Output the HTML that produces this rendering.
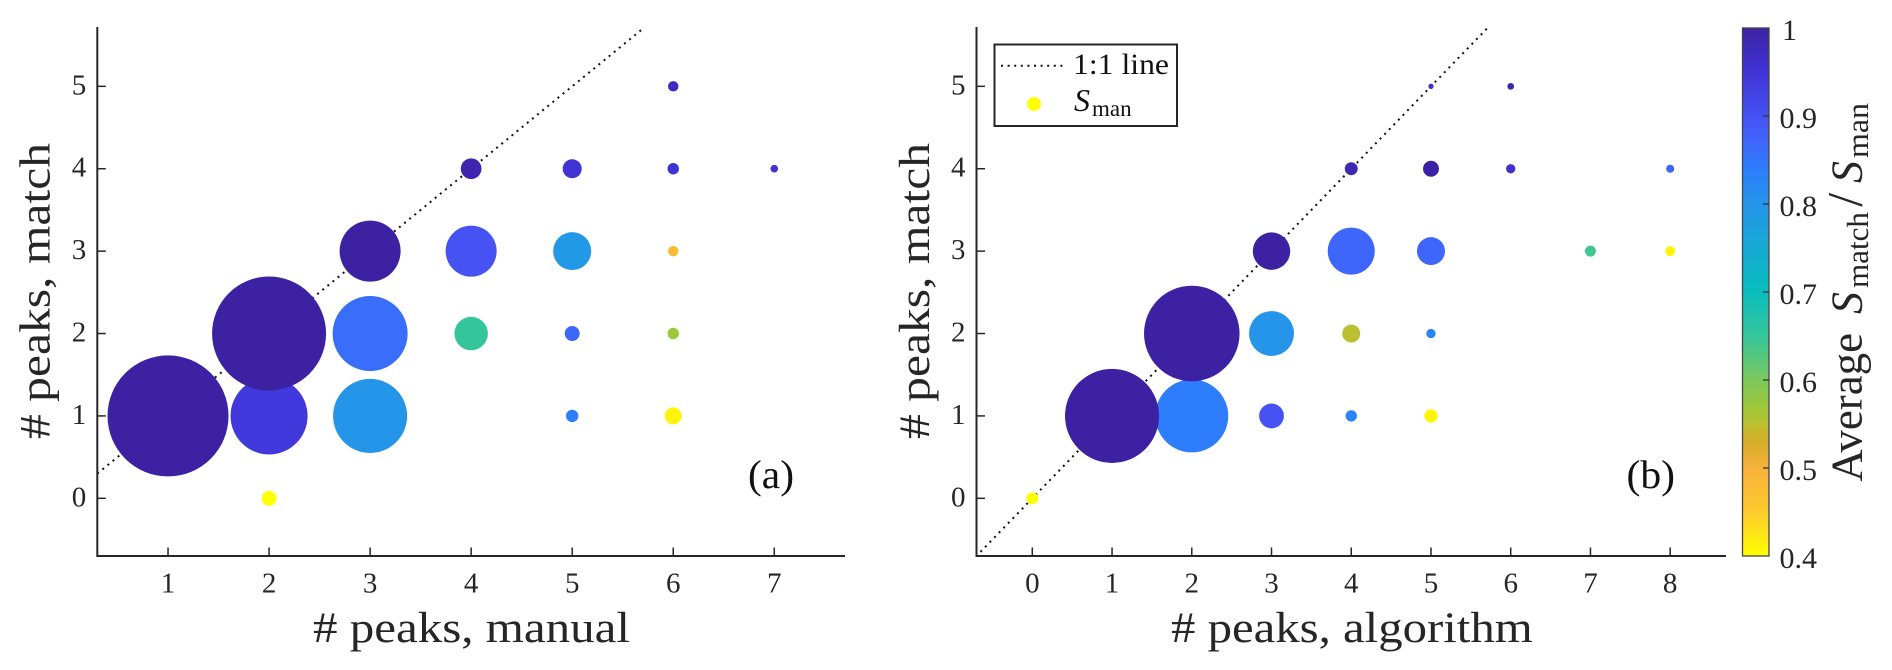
<!DOCTYPE html>
<html lang="en">
<head>
<meta charset="utf-8">
<title>Peaks match bubble charts</title>
<style>
  html, body { margin: 0; padding: 0; background: #fff; }
  #figure { display: block; width: 1892px; height: 670px; }
  text { font-family: "Liberation Serif", serif; fill: #262626; }
  .tick { font-size: 29px; }
  .cbtick { font-size: 30px; }
  .label { font-size: 43px; }
</style>
</head>
<body>
<svg id="figure" xmlns="http://www.w3.org/2000/svg" width="1892" height="670" viewBox="0 0 1892 670">
  <rect x="0" y="0" width="1892" height="670" fill="#fff"/>
  <g id="panel-a"></g>
  <g id="panel-b"></g>

  <text class="label" x="313" y="642" textLength="317" lengthAdjust="spacingAndGlyphs"># peaks, manual</text>
  <text class="label" transform="translate(49.6,439) rotate(-90)" textLength="296" lengthAdjust="spacingAndGlyphs"># peaks, match</text>
  <text x="748" y="488" font-size="40" style="fill:#111" textLength="46" lengthAdjust="spacingAndGlyphs">(a)</text>

  <text class="label" x="1171" y="642" textLength="361.7" lengthAdjust="spacingAndGlyphs"># peaks, algorithm</text>
  <text class="label" transform="translate(929,439) rotate(-90)" textLength="296" lengthAdjust="spacingAndGlyphs"># peaks, match</text>
  <text x="1626.5" y="488" font-size="40" style="fill:#111" textLength="48.5" lengthAdjust="spacingAndGlyphs">(b)</text>

  <g id="legend">
    <rect x="994.5" y="44.5" width="182.5" height="81.5" fill="#fff" stroke="#262626" stroke-width="2"/>
    <line x1="1001" y1="65.7" x2="1063" y2="65.7" stroke="#111" stroke-width="2" stroke-dasharray="2 4.6"/>
    <text x="1073" y="74" font-size="30" style="fill:#111" textLength="96" lengthAdjust="spacingAndGlyphs">1:1 line</text>
    <circle id="legend-marker" cx="1034" cy="104" r="7"/>
    <text style="fill:#111"><tspan x="1074" y="111" font-size="32" font-style="italic">S</tspan><tspan x="1092" y="116" font-size="23" textLength="39.6" lengthAdjust="spacingAndGlyphs">man</tspan></text>
  </g>

  <defs>
    <linearGradient id="cb-gradient" x1="0" y1="1" x2="0" y2="0"></linearGradient>
  </defs>
  <g id="colorbar">
    <rect x="1742.5" y="28" width="26.5" height="528" fill="url(#cb-gradient)" stroke="#444" stroke-width="1.3"/>
  </g>
  <text transform="translate(1861.7,481.7) rotate(-90)"><tspan x="0" y="0" font-size="44" textLength="148.7" lengthAdjust="spacingAndGlyphs">Average</tspan><tspan x="167.7" y="0" font-size="44" font-style="italic">S</tspan><tspan x="193.7" y="6.5" font-size="31" textLength="76" lengthAdjust="spacingAndGlyphs">match</tspan><tspan x="275" y="0" font-size="50">/</tspan><tspan x="298.7" y="0" font-size="44" font-style="italic">S</tspan><tspan x="323.7" y="6.5" font-size="31" textLength="55" lengthAdjust="spacingAndGlyphs">man</tspan></text>
</svg>

<script>
// ---------- shared data ----------
const yTickLabels = [0, 1, 2, 3, 4, 5];
const colorbarTicks = [0.4, 0.5, 0.6, 0.7, 0.8, 0.9, 1];
const colorbarTickLabels = ['0.4', '0.5', '0.6', '0.7', '0.8', '0.9', '1'];

// Panel (a): # peaks manual vs. # peaks match
const xTickLabelsA = [1, 2, 3, 4, 5, 6, 7];
const peaksManual = [7, 6, 6, 6, 6, 6, 5, 5, 5, 5, 4, 4, 4, 3, 3, 3, 2, 2, 2, 1];
const matchA      = [4, 5, 4, 3, 2, 1, 4, 3, 2, 1, 4, 3, 2, 3, 2, 1, 0, 1, 2, 1];
const countA      = [2.1, 3.9, 4.7, 3.9, 4.7, 10.3, 12.9, 51.6, 8, 5.5, 15.3, 93, 40, 133, 201, 196, 8, 212, 464, 523];
const ratioA      = [0.95, 0.97, 0.95, 0.48, 0.57, 0.41, 0.95, 0.79, 0.87, 0.84, 0.99, 0.90, 0.65, 1, 0.86, 0.80, 0.40, 0.94, 1, 1];

// Panel (b): # peaks algorithm vs. # peaks match
const xTickLabelsB = [0, 1, 2, 3, 4, 5, 6, 7, 8];
const peaksAlgorithm = [0, 8, 8, 7, 6, 6, 5, 5, 5, 5, 5, 4, 4, 4, 4, 3, 3, 3, 2, 1, 2];
const matchB         = [0, 4, 3, 3, 5, 4, 5, 4, 3, 2, 1, 4, 3, 2, 1, 3, 2, 1, 1, 1, 2];
const countB         = [5.1, 2.3, 3.6, 4.3, 1.6, 3.1, 1, 9.1, 28, 3.1, 6.3, 6, 79, 11.6, 4.6, 50, 72, 22, 190, 316, 326];
const ratioB         = [0.40, 0.87, 0.41, 0.64, 0.99, 0.96, 0.96, 1, 0.87, 0.83, 0.41, 0.98, 0.87, 0.55, 0.83, 1, 0.80, 0.90, 0.84, 1, 1];

// Colour scale stops: [value, colour]
const colorStops = [
  [0.40, '#ffff00'], [0.45, '#fdca2e'], [0.50, '#f8b23c'], [0.53, '#d4ae28'],
  [0.55, '#bbc030'], [0.57, '#9cc83a'], [0.60, '#7cc85c'], [0.65, '#34c69a'],
  [0.70, '#08bdbd'], [0.80, '#2595ea'], [0.84, '#2d7dfc'], [0.87, '#3f66fb'],
  [0.90, '#4652f2'], [0.95, '#4033d5'], [1.00, '#3c22a3']
];

// ---------- helpers ----------
const NS = 'http://www.w3.org/2000/svg';
function linear(d0, d1, r0, r1) { return v => r0 + (v - d0) * (r1 - r0) / (d1 - d0); }
function hexRgb(h) { return [1, 3, 5].map(i => parseInt(h.substr(i, 2), 16)); }
function colorOf(v) {
  const c = Math.max(0.4, Math.min(1, v));
  for (let i = 1; i < colorStops.length; i++) {
    if (c <= colorStops[i][0]) {
      const [a, ca] = colorStops[i - 1], [b, cb] = colorStops[i];
      const t = (c - a) / (b - a), p = hexRgb(ca), q = hexRgb(cb);
      return 'rgb(' + p.map((x, k) => Math.round(x + (q[k] - x) * t)).join(',') + ')';
    }
  }
  return colorStops[colorStops.length - 1][1];
}
function radiusOf(count) { return Math.sqrt(count * 28) / 2; }
function make(parent, tag, attrs) {
  const el = document.createElementNS(NS, tag);
  for (const k in attrs) el.setAttribute(k, attrs[k]);
  parent.appendChild(el);
  return el;
}

function drawPanel(id, cfg) {
  const g = document.getElementById(id);
  const sx = linear(cfg.xlim[0], cfg.xlim[1], cfg.left, cfg.right);
  const sy = linear(cfg.ylim[0], cfg.ylim[1], cfg.bottom, cfg.top);

  const ref = make(g, 'line', {
    x1: sx(cfg.lineFrom), y1: sy(cfg.lineFrom), x2: sx(cfg.lineTo), y2: sy(cfg.lineTo),
    stroke: '#111', 'stroke-width': 2, 'stroke-dasharray': '2 4.6'
  });
  
  

  cfg.xs.forEach((x, i) => {
    const c = make(g, 'circle', {
      cx: sx(x), cy: sy(cfg.ys[i]), r: radiusOf(cfg.counts[i]), fill: colorOf(cfg.ratios[i])
    });
    
    
  });

  const yAxis = make(g, 'line', { x1: cfg.left, y1: cfg.top, x2: cfg.left, y2: cfg.bottom + 1, stroke: '#262626', 'stroke-width': 2 });
  
  
  const xAxis = make(g, 'line', { x1: cfg.left, y1: cfg.bottom, x2: cfg.right, y2: cfg.bottom, stroke: '#262626', 'stroke-width': 2 });
  
  

  cfg.xTicks.forEach(v => {
    const t = make(g, 'line', { x1: sx(v), y1: cfg.bottom, x2: sx(v), y2: cfg.bottom - 8.5, stroke: '#262626', 'stroke-width': 1.5 });
    
    
    const l = make(g, 'text', { x: sx(v), y: 592.7, 'text-anchor': 'middle', class: 'tick' });
    
    
    l.textContent = v;
  });
  yTickLabels.forEach(v => {
    const t = make(g, 'line', { x1: cfg.left, y1: sy(v), x2: cfg.left + 8.5, y2: sy(v), stroke: '#262626', 'stroke-width': 1.5 });
    
    
    const l = make(g, 'text', { x: cfg.left - 11, y: sy(v) + 8, 'text-anchor': 'end', class: 'tick' });
    
    
    l.textContent = v;
  });
}

// y scale is fixed so that 0 sits at 498.3 and 1 unit spans 82.4 px
drawPanel('panel-a', {
  xlim: [0.3, 7.7], ylim: [-0.7, 5.72], left: 97.3, right: 845, top: 27, bottom: 556,
  lineFrom: 0.3, lineTo: 5.7,
  xs: peaksManual, ys: matchA, counts: countA, ratios: ratioA, xTicks: xTickLabelsA
});
drawPanel('panel-b', {
  xlim: [-0.7, 8.7], ylim: [-0.7, 5.72], left: 976.5, right: 1726, top: 27, bottom: 556,
  lineFrom: -0.65, lineTo: 5.7,
  xs: peaksAlgorithm, ys: matchB, counts: countB, ratios: ratioB, xTicks: xTickLabelsB
});

// legend marker colour
document.getElementById('legend-marker').setAttribute('fill', colorOf(0.4));
document.getElementById('panel-b').parentNode.appendChild(document.getElementById('legend'));

// colour bar
const grad = document.getElementById('cb-gradient');
colorStops.forEach(s => {
  const stop = make(grad, 'stop', { offset: ((s[0] - 0.4) / 0.6 * 100) + '%', 'stop-color': s[1] });
  
  
});
const cbG = document.getElementById('colorbar');
const cbY = linear(0.4, 1, 556, 28);
colorbarTicks.forEach((v, i) => {
  if (v > 0.4 && v < 1) {
    const t = make(cbG, 'line', { x1: 1763, y1: cbY(v), x2: 1769, y2: cbY(v), stroke: '#333', 'stroke-width': 1.3 });
    
    
  }
  const l = make(cbG, 'text', { x: v === 1 ? 1782 : 1779.5, y: cbY(v) + 12, class: 'cbtick' });
  
  
  l.textContent = colorbarTickLabels[i];
});
</script>
</body>
</html>
